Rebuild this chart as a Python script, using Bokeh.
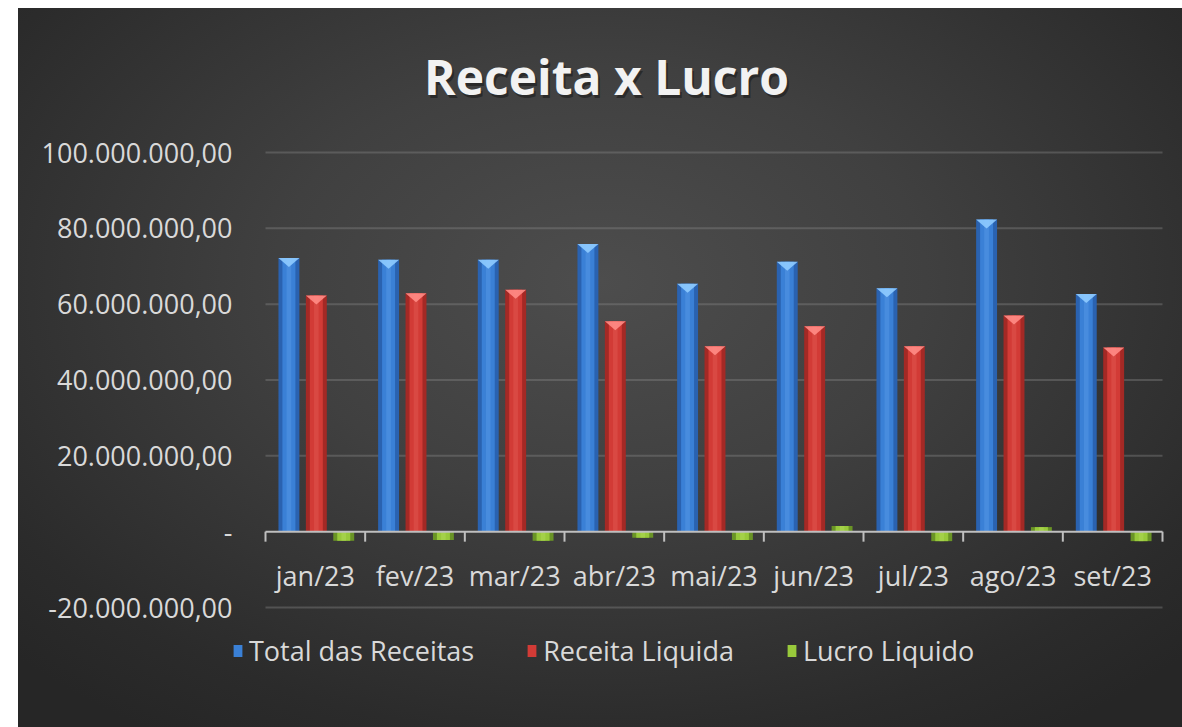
import numpy as np
from bokeh.plotting import figure
from bokeh.models import Range1d, Legend, LegendItem, Spacer, Label
from bokeh.layouts import row, column
from bokeh.core.properties import value
from bokeh.embed import file_html
from bokeh.resources import INLINE

# ---- data ----
months = ["jan/23", "fev/23", "mar/23", "abr/23", "mai/23", "jun/23", "jul/23", "ago/23", "set/23"]
total_receitas = [72_200_000, 71_700_000, 71_700_000, 75_900_000, 65_400_000, 71_200_000, 64_200_000, 82_300_000, 62_700_000]
receita_liquida = [62_300_000, 62_900_000, 63_800_000, 55_500_000, 48_900_000, 54_200_000, 48_900_000, 57_000_000, 48_600_000]
lucro_liquido = [-2_400_000, -2_200_000, -2_400_000, -1_600_000, -2_200_000, 1_500_000, -2_500_000, 1_200_000, -2_500_000]
y_ticks = [-20_000_000, 0, 20_000_000, 40_000_000, 60_000_000, 80_000_000, 100_000_000]
y_tick_labels = ["-20.000.000,00", "-", "20.000.000,00", "40.000.000,00", "60.000.000,00", "80.000.000,00", "100.000.000,00"]
series_names = ["Total das Receitas", "Receita Liquida", "Lucro Liquido"]
title_text = "Receita x Lucro"

FONT = "Open Sans"
TXT = "#d9d9d9"
n = len(months)

# ---- layout geometry (page pixels) ----
FIG_L, FIG_T, FIG_W, FIG_H = 18, 8, 1164, 719
PLOT_L, PLOT_R = 265, 1162          # x = 0 .. n
PLOT_TOP, PLOT_BOT = 152, 607       # y = max tick .. min tick
ux = (PLOT_R - PLOT_L) / n
uy = (PLOT_BOT - PLOT_TOP) / (y_ticks[-1] - y_ticks[0])
x_start = -(PLOT_L - FIG_L) / ux
x_end = n + (FIG_L + FIG_W - PLOT_R) / ux
y_end = y_ticks[-1] + (PLOT_TOP - FIG_T) / uy
y_start = y_ticks[0] - (FIG_T + FIG_H - PLOT_BOT) / uy


def px_x(page_x):
    return (page_x - PLOT_L) / ux


def px_y(page_y):
    return y_ticks[-1] + (PLOT_TOP - page_y) / uy


p = figure(width=FIG_W, height=FIG_H, x_range=Range1d(x_start, x_end), y_range=Range1d(y_start, y_end),
           output_backend="svg", toolbar_location=None,
           min_border=0, min_border_left=0, min_border_right=0, min_border_top=0, min_border_bottom=0,
           border_fill_color=None, background_fill_color=None, outline_line_color=None)
p.styles = {"background": "radial-gradient(ellipse 70% 75% at 50% 38%, #4d4d4d 0%, #404040 40%, #2b2b2b 85%, #262626 100%)"}
p.xaxis.visible = False
p.yaxis.visible = False
p.xgrid.visible = False
p.ygrid.visible = False

# gridlines
grid_ticks = [t for t in y_ticks if t != 0]
p.segment(x0=[0] * len(grid_ticks), x1=[n] * len(grid_ticks), y0=grid_ticks, y1=grid_ticks,
          line_color="#8a8a8a", line_alpha=0.38, line_width=2)

# y labels
p.text(x=[0] * len(y_ticks), y=y_ticks, text=y_tick_labels, x_offset=-33, text_align="right",
       text_baseline="middle", text_font=value(FONT), text_font_size="27px", text_color=TXT)

# bars
centers = np.arange(n) + 0.51
offsets = [-0.275, 0.0, 0.275]
bar_w = 0.21
styles = [
    dict(dark="#2a62b0", mid="#3a80d6", light="#5c9ce8", cap="#8fcbff"),
    dict(dark="#a42925", mid="#d23b36", light="#e35a54", cap="#ff8c86"),
    dict(dark="#6a9426", mid="#98c93b", light="#b4dc5c", cap="#cdee74"),
]
vals_all = [total_receitas, receita_liquida, lucro_liquido]
legend_renderers = []
for k, (vals, st) in enumerate(zip(vals_all, styles)):
    xs = centers + offsets[k]
    p.vbar(x=xs, top=vals, bottom=0, width=bar_w, fill_color=st["dark"], line_color=None)
    r = p.vbar(x=xs, top=vals, bottom=0, width=bar_w * 0.62, fill_color=st["mid"], line_color=None)
    p.vbar(x=xs, top=vals, bottom=0, width=bar_w * 0.22, fill_color=st["light"], fill_alpha=0.45, line_color=None)
    legend_renderers.append(r)
    if k < 2:
        cap_h = 9 / uy
        pxs = [[x - bar_w / 2, x + bar_w / 2, x] for x in xs]
        pys = [[v, v, v - cap_h] for v in vals]
        p.patches(xs=pxs, ys=pys, fill_color=st["cap"], fill_alpha=0.9, line_color=None)

# x axis at zero
p.segment(x0=[0], x1=[n], y0=[0], y1=[0], line_color="#bfbfbf", line_width=2)
bounds = np.arange(n + 1)
p.segment(x0=bounds, x1=bounds, y0=[0] * (n + 1), y1=[-10 / uy] * (n + 1), line_color="#bfbfbf", line_width=2)
p.text(x=np.arange(n) + 0.5, y=[0] * n, text=months, text_align="center", text_baseline="middle",
       y_offset=44, text_font=value(FONT), text_font_size="27px", text_color=TXT)

# title (with soft shadow)
p.add_layout(Label(x=px_x(606), y=px_y(76), x_offset=2, y_offset=-3, text=title_text, text_align="center",
                   text_baseline="middle", text_font=FONT, text_font_size="48px", text_font_style="bold",
                   text_color="#000000", text_alpha=0.35))
p.add_layout(Label(x=px_x(606), y=px_y(76), text=title_text, text_align="center", text_baseline="middle",
                   text_font=FONT, text_font_size="48px", text_font_style="bold", text_color="#f2f2f2"))

# legend
legend = Legend(items=[LegendItem(label=nm, renderers=[r]) for nm, r in zip(series_names, legend_renderers)],
                orientation="horizontal", location=(232 - FIG_L, FIG_T + FIG_H - 669),
                background_fill_alpha=0, border_line_color=None,
                label_text_color=TXT, label_text_font=FONT, label_text_font_size="27px",
                glyph_width=11, glyph_height=15, spacing=52, label_standoff=6, margin=0, padding=4)
p.add_layout(legend, "center")

layout = column(Spacer(width=FIG_L + FIG_W, height=FIG_T), row(Spacer(width=FIG_L, height=FIG_H), p))
open("out.html", "w").write(file_html(layout, INLINE))
